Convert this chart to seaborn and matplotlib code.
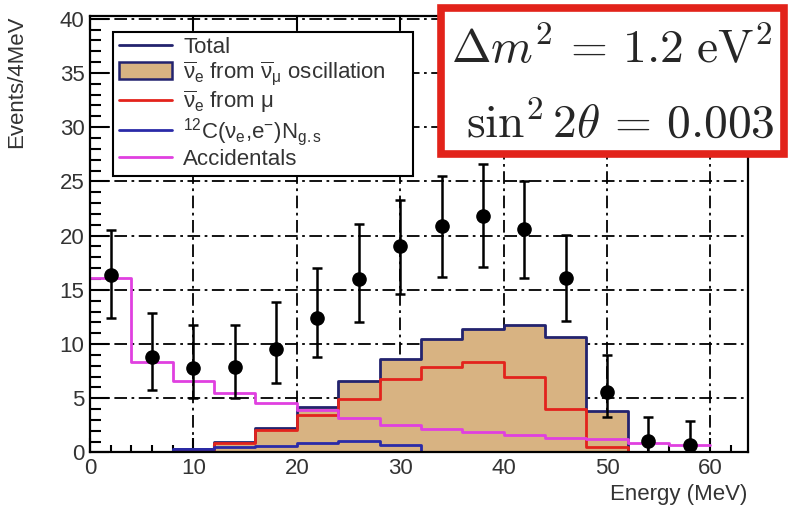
import numpy as np
import matplotlib
matplotlib.use("Agg")
import matplotlib.pyplot as plt
from matplotlib.lines import Line2D
from matplotlib.patches import Patch, Rectangle
from matplotlib.ticker import MultipleLocator
import seaborn as sns

# ---- data -------------------------------------------------------------
bin_edges = [0, 4, 8, 12, 16, 20, 24, 28, 32, 36, 40, 44, 48, 52, 56, 60]
energy = [2, 6, 10, 14, 18, 22, 26, 30, 34, 38, 42, 46, 50, 54, 58]

observed = [16.4, 8.85, 7.8, 7.9, 9.5, 12.4, 16.0, 19.0, 20.9, 21.8, 20.6, 16.1, 5.6, 1.05, 0.7]
obs_low = [12.4, 5.8, 5.0, 5.0, 6.4, 8.8, 12.0, 14.6, 16.2, 17.1, 16.05, 12.15, 3.25, 0.0, 0.0]
obs_high = [20.5, 12.9, 11.8, 11.8, 13.85, 17.0, 21.1, 23.3, 25.5, 26.6, 25.05, 20.05, 9.0, 3.25, 2.9]

total = [0.0, 0.0, 0.3, 0.95, 2.3, 4.2, 6.6, 8.6, 10.45, 11.4, 11.8, 10.65, 3.8, 0.0, 0.0]
from_mu = [0.0, 0.0, 0.1, 0.9, 2.05, 3.5, 4.95, 6.8, 7.85, 8.3, 7.0, 4.0, 0.5, 0.0, 0.0]
carbon = [0.03, 0.03, 0.3, 0.5, 0.62, 0.88, 1.06, 0.7, 0.08, 0.03, 0.03, 0.03, 0.03, 0.03, 0.03]
accidentals = [16.1, 8.3, 6.6, 5.5, 4.6, 3.9, 3.15, 2.55, 2.2, 1.85, 1.6, 1.3, 1.2, 0.9, 0.7]

labels = [
    "Total",
    r"$\overline{\mathrm{\nu}}_\mathrm{e}$ from $\overline{\mathrm{\nu}}_\mathrm{\mu}$ oscillation",
    r"$\overline{\mathrm{\nu}}_\mathrm{e}$ from $\mathrm{\mu}$",
    r"$^{12}$C($\mathrm{\nu}_\mathrm{e}$,e$^{-}$)N$_\mathrm{g.s}$",
    "Accidentals",
]

# ---- style ------------------------------------------------------------
sns.set_theme(style="white")
plt.rcParams["font.family"] = ["Liberation Sans", "DejaVu Sans"]
plt.rcParams["mathtext.fontset"] = "custom"
plt.rcParams["mathtext.rm"] = "Liberation Sans"
plt.rcParams["mathtext.it"] = "Liberation Sans:italic"
plt.rcParams["mathtext.bf"] = "Liberation Sans:bold"

TAN = "#D8B382"
NAVY = "#23236E"
RED = "#E3231C"
BLUE = "#2A2AA8"
MAGENTA = "#E040E0"
FS = 16

fig = plt.figure(figsize=(7.88, 5.11), dpi=100)
ax = fig.add_axes([0.1142, 0.1145, 0.8346, 0.8542])

# oscillation signal fill
sns.histplot(x=energy, weights=total, bins=bin_edges, element="step", fill=True,
             color=TAN, alpha=1.0, linewidth=0, ax=ax)
# step lines
for vals, col in [(total, NAVY), (from_mu, RED), (carbon, BLUE), (accidentals, MAGENTA)]:
    sns.histplot(x=energy, weights=vals, bins=bin_edges, element="step", fill=False,
                 color=col, linewidth=2.0, ax=ax)

# data points with asymmetric errors
obs = np.array(observed)
yerr = np.vstack([obs - np.array(obs_low), np.array(obs_high) - obs])
ax.errorbar(energy, observed, yerr=yerr, fmt="o", color="black", ms=9.5,
            elinewidth=1.8, capsize=3.5, capthick=1.8, zorder=5)

# ---- axes -------------------------------------------------------------
ax.set_xlim(0, 63.6)
ax.set_ylim(0, 40.25)
ax.set_axisbelow(True)
ax.grid(True, which="major", color="black", linewidth=1.3,
        linestyle=(0, (7, 2.5, 1.5, 2.5)))
ax.xaxis.set_major_locator(MultipleLocator(10))
ax.xaxis.set_minor_locator(MultipleLocator(2))
ax.yaxis.set_major_locator(MultipleLocator(5))
ax.yaxis.set_minor_locator(MultipleLocator(1))
ax.tick_params(which="both", direction="in", colors="black", labelsize=FS,
               top=True, right=False, left=True, bottom=True)
ax.tick_params(axis="x", which="major", length=10, width=1.5, pad=4)
ax.tick_params(axis="x", which="minor", length=5, width=1.5, top=False)
ax.tick_params(axis="y", which="major", length=14, width=1.5, pad=4)
ax.tick_params(axis="y", which="minor", length=8, width=1.5)
for lab in ax.get_xticklabels() + ax.get_yticklabels():
    lab.set_color("#333333")
for s in ax.spines.values():
    s.set_color("black")
    s.set_linewidth(1.6)

ax.set_xlabel("Energy (MeV)", fontsize=FS, color="#333333", ha="right")
ax.xaxis.set_label_coords(1.0, -0.072)
ax.set_ylabel("Events/4MeV", fontsize=FS, color="#333333", ha="right", va="center")
ax.yaxis.set_label_coords(-0.112, 1.0)

# ---- legend -----------------------------------------------------------
handles = [
    Line2D([], [], color=NAVY, lw=2),
    Patch(facecolor=TAN, edgecolor=NAVY, linewidth=1.8),
    Line2D([], [], color=RED, lw=2),
    Line2D([], [], color=BLUE, lw=2),
    Line2D([], [], color=MAGENTA, lw=2),
]
leg = ax.legend(handles, labels, loc="upper left",
                bbox_to_anchor=(0.035, 0.629, 0.456, 0.335), mode="expand",
                fontsize=FS, frameon=True, fancybox=False, framealpha=1,
                edgecolor="black", borderpad=0.25, labelspacing=0.05,
                handlelength=2.4, handleheight=0.8, handletextpad=0.5,
                borderaxespad=0)
leg.get_frame().set_linewidth(1.5)
for t in leg.get_texts():
    t.set_color("#333333")
leg.set_zorder(10)

# ---- parameter box ----------------------------------------------------
W, H = fig.get_size_inches() * fig.dpi
box = Rectangle((441 / W, 1 - 154 / H), (784 - 441) / W, (154 - 8) / H,
                transform=fig.transFigure, facecolor="white", edgecolor="#E2231A",
                linewidth=5.5, zorder=20)
fig.patches.append(box)
fig.text(773 / W, 1 - 63 / H, r"$\Delta m^2\,=\,1.2\ \mathrm{eV}^2$", ha="right",
         va="baseline", fontsize=34.2, math_fontfamily="cm", zorder=21)
fig.text(775 / W, 1 - 138 / H, r"$\sin^2 2\theta\,=\,0.003$", ha="right",
         va="baseline", fontsize=34.2, math_fontfamily="cm", zorder=21)

fig.savefig("out.png", dpi=100)
